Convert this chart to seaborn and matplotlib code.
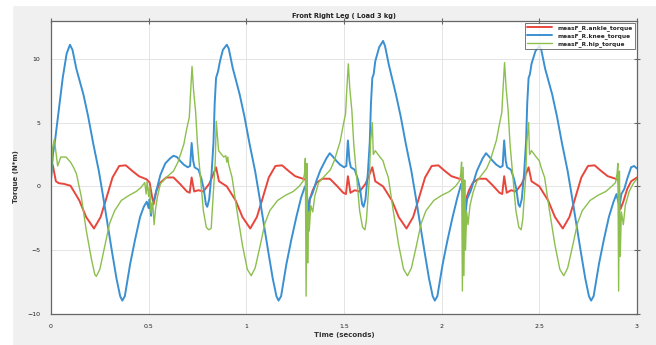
import numpy as np
import pandas as pd
import seaborn as sns
from matplotlib import pyplot as plt
import matplotlib.patches as mpatches

# ankle torque (red)
ankle_t = [0, 0.01, 0.025, 0.04, 0.065, 0.10, 0.145, 0.18, 0.22, 0.254, 0.28, 0.315, 0.349, 0.383,
           0.417, 0.45, 0.49, 0.505, 0.515, 0.525, 0.54, 0.56, 0.59, 0.627, 0.66, 0.696, 0.71, 0.72,
           0.733, 0.755, 0.78, 0.81, 0.832, 0.845, 0.86, 0.9,
           0.945, 0.98, 1.02, 1.054, 1.08, 1.115, 1.149, 1.183, 1.217, 1.25, 1.29, 1.305, 1.315,
           1.325, 1.34, 1.36, 1.39, 1.427, 1.46, 1.496, 1.51, 1.52, 1.533, 1.555, 1.58, 1.61, 1.632,
           1.645, 1.66, 1.7,
           1.745, 1.78, 1.82, 1.854, 1.88, 1.915, 1.949, 1.983, 2.017, 2.05, 2.09, 2.105, 2.115,
           2.125, 2.14, 2.16, 2.19, 2.227, 2.26, 2.296, 2.31, 2.32, 2.333, 2.355, 2.38, 2.41, 2.432,
           2.445, 2.46, 2.5,
           2.545, 2.58, 2.62, 2.654, 2.68, 2.715, 2.749, 2.783, 2.817, 2.85, 2.89, 2.905, 2.915,
           2.93, 2.95, 2.97, 3.0]
ankle_v = [2.0, 1.6, 0.4, 0.25, 0.2, 0.05, -1.1, -2.4, -3.3, -2.4, -1.1, 0.7, 1.6, 1.65,
           1.2, 0.8, 0.55, 0.3, -0.6, -1.4, -0.3, 0.3, 0.7, 0.7, 0.2, -0.4, -0.5, 0.7,
           -0.4, -0.3, -0.4, 0.2, 1.0, 1.5, 0.4, 0.0,
           -1.1, -2.4, -3.3, -2.4, -1.1, 0.7, 1.6, 1.65, 1.2, 0.8, 0.6, 0.5, -2.0,
           -1.0, -0.3, 0.3, 0.6, 0.6, 0.1, -0.5, -0.6, 0.8, -0.5, -0.3, -0.4, 0.2, 1.0,
           1.5, 0.4, 0.0,
           -1.1, -2.4, -3.3, -2.4, -1.1, 0.7, 1.6, 1.65, 1.2, 0.8, 0.6, 0.5, -2.2,
           -1.0, -0.3, 0.3, 0.6, 0.6, 0.1, -0.5, -0.6, 0.8, -0.5, -0.3, -0.4, 0.2, 1.0,
           1.5, 0.4, 0.0,
           -1.1, -2.4, -3.3, -2.4, -1.1, 0.7, 1.6, 1.65, 1.2, 0.8, 0.6, 0.5, -1.8,
           -1.2, -0.2, 0.4, 0.7]

# knee torque (blue)
knee_t = [0, 0.01, 0.02, 0.04, 0.06, 0.08, 0.097, 0.11, 0.13, 0.166, 0.19, 0.217, 0.245, 0.268,
          0.29, 0.311, 0.335, 0.354, 0.365, 0.378, 0.405, 0.43, 0.456, 0.475, 0.49, 0.5, 0.505,
          0.512, 0.52, 0.53, 0.545, 0.56, 0.585, 0.61, 0.627, 0.645, 0.661, 0.68, 0.7, 0.712,
          0.72, 0.728, 0.735, 0.755, 0.77, 0.782, 0.793, 0.8, 0.81, 0.822, 0.832, 0.838, 0.845,
          0.855, 0.865, 0.88, 0.9, 0.91, 0.93, 0.966,
          0.99, 1.017, 1.045, 1.068, 1.09, 1.111, 1.135, 1.154, 1.165, 1.178, 1.205, 1.23, 1.256,
          1.28, 1.3, 1.31, 1.318, 1.325, 1.34, 1.36, 1.38, 1.41, 1.427, 1.445, 1.461, 1.48, 1.5,
          1.512, 1.52, 1.528, 1.535, 1.555, 1.57, 1.582, 1.593, 1.6, 1.61, 1.622, 1.632, 1.638,
          1.645, 1.652, 1.66, 1.68, 1.7, 1.71, 1.73, 1.766,
          1.79, 1.817, 1.845, 1.868, 1.89, 1.911, 1.935, 1.954, 1.965, 1.978, 2.005, 2.03, 2.056,
          2.08, 2.1, 2.11, 2.12, 2.13, 2.15, 2.18, 2.21, 2.227, 2.245, 2.261, 2.28, 2.3, 2.312,
          2.32, 2.328, 2.335, 2.355, 2.37, 2.382, 2.393, 2.4, 2.41, 2.422, 2.432, 2.438, 2.445,
          2.452, 2.46, 2.48, 2.5, 2.51, 2.53, 2.566,
          2.59, 2.617, 2.645, 2.668, 2.69, 2.711, 2.735, 2.754, 2.765, 2.778, 2.805, 2.83, 2.856,
          2.88, 2.895, 2.91, 2.92, 2.935, 2.95, 2.97, 2.985, 3.0]
knee_v = [0.5, 2.5, 3.5, 6.0, 8.5, 10.4, 11.1, 10.7, 9.2, 7.2, 5.5, 3.3, 1.2, -0.9,
          -3.0, -5.0, -7.2, -8.6, -8.95, -8.6, -6.1, -4.2, -2.4, -1.6, -1.2, -1.7, -1.0,
          -2.3, -1.3, -0.9, 0.0, 0.9, 1.8, 2.2, 2.4, 2.3, 2.0, 1.7, 1.5, 1.6,
          3.4, 2.0, 1.5, 1.3, 0.6, -0.2, -1.4, -1.6, -1.0, 1.0, 3.5, 6.5, 8.5,
          9.0, 9.8, 10.7, 11.1, 10.8, 9.3, 7.2,
          5.5, 3.3, 1.2, -0.9, -3.0, -5.0, -7.2, -8.6, -8.95, -8.6, -6.1, -4.2, -2.4,
          -0.9, 0.0, -0.5, -2.3, -1.0, -0.5, 0.5, 1.3, 2.2, 2.6, 2.3, 2.0, 1.7, 1.5,
          1.6, 3.6, 2.0, 1.5, 1.3, 0.6, -0.2, -1.4, -1.6, -1.0, 1.0, 3.5, 6.5,
          8.5, 8.8, 9.8, 10.9, 11.4, 11.0, 9.5, 7.2,
          5.5, 3.3, 1.2, -0.9, -3.0, -5.0, -7.2, -8.6, -8.95, -8.6, -6.1, -4.2, -2.4,
          -0.9, 0.2, -0.5, -2.4, -1.0, -0.3, 1.2, 2.2, 2.6, 2.3, 2.0, 1.7, 1.5, 1.6,
          3.6, 2.0, 1.5, 1.3, 0.6, -0.2, -1.4, -1.6, -1.0, 1.0, 3.5, 6.5, 8.5,
          8.8, 9.6, 10.6, 11.0, 10.7, 9.2, 7.2,
          5.5, 3.3, 1.2, -0.9, -3.0, -5.0, -7.2, -8.6, -8.95, -8.6, -6.1, -4.2, -2.4,
          -1.2, -0.6, -1.6, -0.6, -0.2, 0.6, 1.5, 1.6, 1.4]

# hip torque (green)
hip_t = [0, 0.008, 0.017, 0.026, 0.034, 0.05, 0.077, 0.1, 0.115, 0.13, 0.155, 0.18, 0.207, 0.224,
         0.232, 0.25, 0.275, 0.3, 0.326, 0.36, 0.4, 0.436, 0.46, 0.48, 0.487, 0.492, 0.5, 0.505,
         0.512, 0.52, 0.528, 0.535, 0.545, 0.56, 0.59, 0.627, 0.65, 0.68, 0.696, 0.708, 0.714,
         0.722, 0.73, 0.74, 0.75, 0.765, 0.78, 0.795, 0.807, 0.82, 0.835, 0.841, 0.846, 0.858,
         0.884, 0.895, 0.9, 0.905, 0.909, 0.927, 0.952, 0.98, 1.005, 1.025, 1.045, 1.07, 1.095,
         1.12, 1.16, 1.2, 1.24, 1.27, 1.29, 1.298, 1.302, 1.306, 1.31, 1.314, 1.318, 1.322, 1.33,
         1.34, 1.35, 1.37, 1.40, 1.43, 1.45, 1.48, 1.496, 1.508, 1.514, 1.522, 1.53, 1.54, 1.55,
         1.565, 1.58, 1.595, 1.607, 1.615, 1.63, 1.636, 1.645, 1.65, 1.66, 1.684, 1.70, 1.709,
         1.727, 1.752, 1.78, 1.805, 1.825, 1.845, 1.87, 1.895, 1.92, 1.96, 2.0, 2.04, 2.07, 2.09,
         2.098, 2.102, 2.106, 2.11, 2.114, 2.118, 2.122, 2.128, 2.135, 2.145, 2.16, 2.18, 2.20,
         2.23, 2.25, 2.28, 2.296, 2.308, 2.314, 2.322, 2.33, 2.34, 2.35, 2.365, 2.38, 2.395,
         2.407, 2.415, 2.43, 2.436, 2.445, 2.45, 2.46, 2.484, 2.5, 2.509, 2.527, 2.552, 2.58,
         2.605, 2.625, 2.645, 2.67, 2.695, 2.72, 2.76, 2.8, 2.84, 2.87, 2.89, 2.898, 2.902,
         2.906, 2.91, 2.914, 2.92, 2.93, 2.94, 2.96, 2.98, 3.0]
hip_v = [0.0, 3.0, 3.7, 2.6, 1.6, 2.3, 2.3, 1.9, 1.5, 1.0, -0.8, -3.4, -5.7, -6.9,
         -7.05, -6.5, -4.7, -2.9, -1.9, -1.1, -0.7, -0.4, -0.1, 0.3, -0.6, 0.4, -0.8, 0.0,
         -2.1, -1.2, -3.0, -1.8, -0.8, 0.2, 0.7, 1.2, 1.9, 3.3, 4.6, 5.4, 7.2,
         9.4, 7.5, 5.9, 3.3, 0.7, -1.9, -3.2, -3.4, -3.3, 0.5, 2.0, 5.1, 2.8,
         2.3, 2.4, 1.9, 2.3, 1.75, 0.7, -1.9, -4.6, -6.5, -7.0, -6.4, -4.7, -2.9,
         -1.9, -1.1, -0.7, -0.4, 0.0, 0.4, 1.0, 2.2, -8.6, 1.8, -6.0, -2.0, -3.5, -1.5,
         -2.0, -0.8, 0.3, 0.8, 1.3, 2.0, 3.5, 4.8, 5.7, 7.5, 9.6, 7.6, 6.0, 3.3,
         0.7, -1.9, -3.2, -3.4, -2.6, 0.7, 3.5, 5.0, 2.5, 2.8, 2.3, 2.0, 1.5,
         0.7, -1.9, -4.6, -6.5, -7.0, -6.4, -4.7, -2.9, -1.9, -1.1, -0.7, -0.4, 0.0, 0.4,
         1.0, 1.9, -8.2, 1.5, -7.0, 0.5, -5.0, -2.0, -3.0, -1.5, -0.5, 0.4, 0.8,
         1.4, 2.1, 3.6, 4.9, 5.8, 7.6, 9.7, 7.7, 6.0, 3.3, 0.7, -1.9, -3.2,
         -3.4, -2.6, 0.7, 3.5, 5.0, 2.5, 2.8, 2.3, 2.0, 1.5, 0.7, -1.9, -4.6,
         -6.5, -7.0, -6.4, -4.7, -2.9, -1.9, -1.1, -0.7, -0.4, 0.0, 0.3, 1.0, 1.8,
         -8.2, 1.2, -5.5, -2.0, -3.0, -1.5, -0.4, 0.2, 0.6]

labels = ["measF_R.ankle_torque", "measF_R.knee_torque", "measF_R.hip_torque"]
colours = ["#e8463c", "#3b90d2", "#8cbf4e"]

df = pd.concat([
    pd.DataFrame({"t": ankle_t, "v": ankle_v, "s": labels[0]}),
    pd.DataFrame({"t": knee_t, "v": knee_v, "s": labels[1]}),
    pd.DataFrame({"t": hip_t, "v": hip_v, "s": labels[2]}),
])

sns.set_style("white")
plt.rcParams["font.family"] = ["DejaVu Sans"]

fig = plt.figure(figsize=(6.56, 3.45), dpi=100, facecolor="#f0f0f0")
# white strip left/top like the screenshot border
fig.patches.append(mpatches.Rectangle((0, 0), 12 / 656, 1, transform=fig.transFigure,
                                      color="white", zorder=-1))
fig.patches.append(mpatches.Rectangle((0, 1 - 5 / 345), 1, 5 / 345, transform=fig.transFigure,
                                      color="white", zorder=-1))
ax = fig.add_axes([51 / 656, 31 / 345, 586 / 656, 293.5 / 345])
ax.set_facecolor("white")

widths = {labels[0]: 1.4, labels[1]: 1.4, labels[2]: 1.0}
for lab, col in zip(labels, colours):
    sns.lineplot(data=df[df["s"] == lab], x="t", y="v", color=col, lw=widths[lab],
                 estimator=None, sort=False, ax=ax, label=lab)

ax.set_xlim(0, 3)
ax.set_ylim(-10, 13)
ax.set_xticks([0, 0.5, 1, 1.5, 2, 2.5, 3])
ax.set_xticklabels(["0", "0.5", "1", "1.5", "2", "2.5", "3"])
ax.set_yticks([-10, -5, 0, 5, 10])
ax.grid(True, color="#e4e4e4", lw=0.7)
for sp in ax.spines.values():
    sp.set_color("#666666")
    sp.set_linewidth(0.9)
ax.tick_params(direction="inout", length=5, width=0.8, color="#666666",
               labelsize=4.5, pad=5, top=True, right=True, labelcolor="#222222")

ax.set_title("Front Right Leg ( Load 3 kg)", fontsize=4.8, fontweight="bold", pad=2,
             color="#222222")
ax.set_xlabel("Time (seconds)", fontsize=5, fontweight="bold", color="#333333", labelpad=2)
ax.set_ylabel("Torque (N*m)", fontsize=5, fontweight="bold", color="#333333", labelpad=6)
ax.yaxis.set_label_coords(-0.055, 0.467)

leg = ax.legend(loc="upper right", fontsize=4.2, handlelength=4.3, frameon=True,
                fancybox=False, borderaxespad=0.4, borderpad=0.4, labelspacing=0.35,
                prop={"size": 4.2, "weight": "bold"})
leg.get_frame().set_edgecolor("#555555")
leg.get_frame().set_linewidth(0.7)

plt.savefig("out.png", dpi=100, facecolor=fig.get_facecolor())
